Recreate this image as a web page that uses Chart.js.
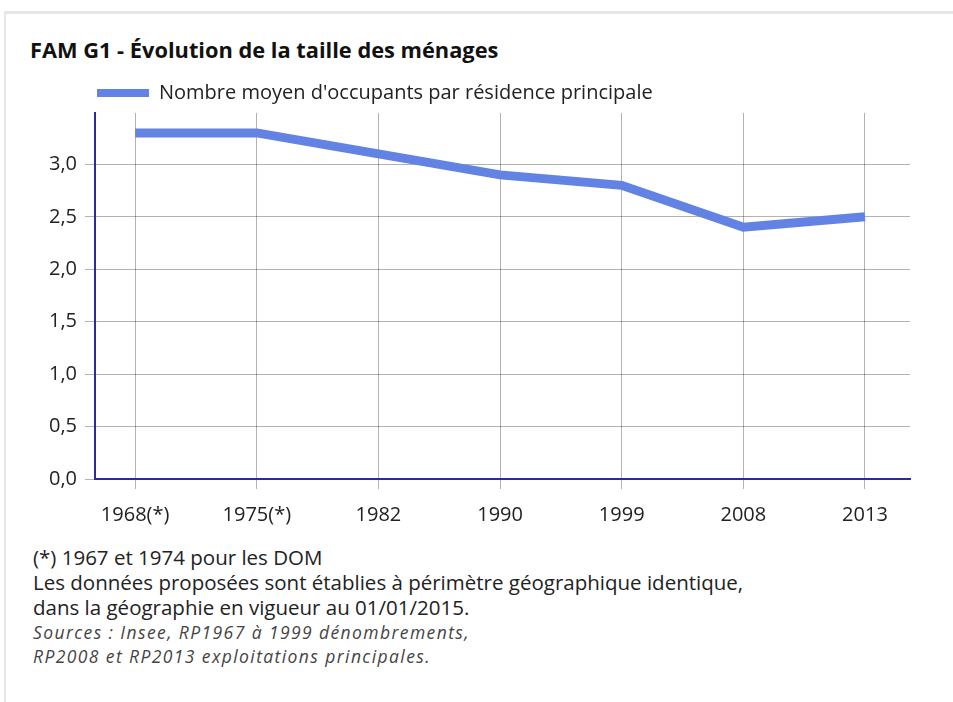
<!DOCTYPE html>
<html lang="fr">
<head>
<meta charset="utf-8">
<script src="https://cdn.jsdelivr.net/npm/chart.js@4"></script>
<style>
  html, body { margin: 0; padding: 0; background: #fff; }
  body { width: 953px; height: 702px; position: relative; overflow: hidden; font-family: "Open Sans", sans-serif; color: #222; }
  .panel { position: absolute; left: 4px; top: 11px; width: 960px; height: 700px; border-top: 3px solid #e6e6e6; border-left: 2px solid #e6e6e6; }
  h1 { position: absolute; left: 30px; top: 35px; margin: 0; font-size: 21.8px; line-height: 29px; font-weight: bold; color: #111; }
  .wrap { position: absolute; left: 30px; top: 81px; width: 900px; height: 460px; }
  .notes { position: absolute; left: 33px; top: 545px; font-size: 20.5px; line-height: 25px; color: #222; }
  .notes .src { font-style: italic; font-size: 17.5px; letter-spacing: 1.4px; color: #444; line-height: 24px; }
</style>
</head>
<body>
<div class="panel"></div>
<h1>FAM G1 - Évolution de la taille des ménages</h1>
<div class="wrap"><canvas id="chart"></canvas></div>
<div class="notes">
  <div>(*) 1967 et 1974 pour les DOM</div>
  <div>Les données proposées sont établies à périmètre géographique identique,</div>
  <div>dans la géographie en vigueur au 01/01/2015.</div>
  <div class="src">Sources : Insee, RP1967 à 1999 dénombrements,</div>
  <div class="src">RP2008 et RP2013 exploitations principales.</div>
</div>
<script>
// census years (x axis) and mean household size
const years = ["1968(*)", "1975(*)", "1982", "1990", "1999", "2008", "2013"];
const occupants = [3.3, 3.3, 3.1, 2.9, 2.8, 2.4, 2.5];
const seriesLabel = "Nombre moyen d'occupants par résidence principale";

const axisBlue = "#2c2c94";
const gridGrey = "rgba(0,0,0,0.3)";
const tickFont = { family: "Open Sans", size: 20 };

new Chart(document.getElementById("chart"), {
  type: "line",
  data: {
    datasets: [{
      label: seriesLabel,
      data: occupants.map((v, i) => ({ x: i, y: v })),
      borderColor: "#6283e3",
      backgroundColor: "#6283e3",
      borderWidth: 9,
      pointRadius: 0,
      tension: 0
    }]
  },
  options: {
    responsive: true,
    maintainAspectRatio: false,
    animation: false,
    layout: { padding: { top: 0, right: 20, bottom: 0, left: 0 } },
    plugins: {
      tooltip: { enabled: false },
      legend: {
        fullSize: false,
        align: "start",
        labels: {
          boxWidth: 52,
          boxHeight: 8,
          padding: 2,
          color: "#222",
          font: { family: "Open Sans", size: 20 },
          // flat swatch, without the thick line border
          generateLabels: chart =>
            Chart.defaults.plugins.legend.labels.generateLabels(chart)
              .map(item => ({ ...item, lineWidth: 0 }))
        }
      }
    },
    scales: {
      x: {
        type: "linear",
        min: -0.33,
        max: 6.37,
        border: { color: axisBlue, width: 2 },
        grid: { color: gridGrey, tickLength: 10 },
        ticks: {
          stepSize: 1,
          includeBounds: false,
          padding: 14,
          color: "#222",
          font: tickFont,
          callback: v => years[v] ?? ""
        }
      },
      y: {
        min: 0,
        max: 3.49,
        border: { color: axisBlue, width: 2 },
        grid: { color: gridGrey, tickLength: 10 },
        ticks: {
          stepSize: 0.5,
          includeBounds: false,
          padding: 8,
          color: "#222",
          font: tickFont,
          callback: v => v.toFixed(1).replace(".", ",")
        },
        afterFit: s => { s.width = 65; }
      }
    }
  }
});
</script>
</body>
</html>
